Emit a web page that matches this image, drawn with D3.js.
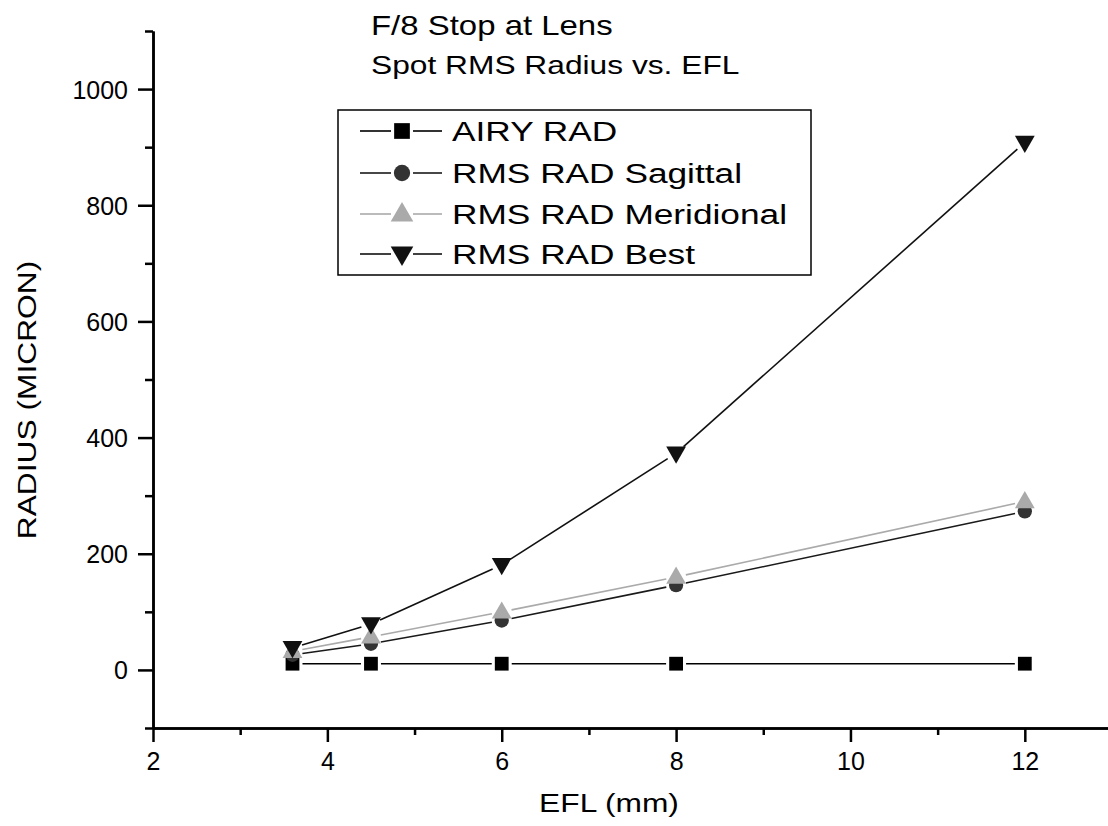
<!DOCTYPE html>
<html>
<head>
<meta charset="utf-8">
<script src="https://cdn.jsdelivr.net/npm/d3@7"></script>
<style>
body{margin:0;background:#fff;}
text{font-family:"Liberation Sans",Arial,sans-serif;fill:#000;}
</style>
</head>
<body>
<svg id="chart" width="1108" height="826"></svg>
<script>
// data
var efl=[3.6,4.5,6,8,12];
var airyRad=[10.7,10.7,10.7,10.7,10.7];
var rmsSagittal=[26,45,85,146,273];
var rmsMeridional=[32,57,100,160,290];
var rmsBest=[38,79,181,373,908];
var seriesNames=["AIRY RAD","RMS RAD Sagittal","RMS RAD Meridional","RMS RAD Best"];
var xTicks=[2,4,6,8,10,12];
var xMinor=[3,5,7,9,11,13];
var yTicks=[0,200,400,600,800,1000];
var yMinor=[-100,100,300,500,700,900,1100];

var stretch=1.22;

var series=[
  {name:seriesNames[0],vals:airyRad,line:"#000",fill:"#000",sym:d3.symbolSquare},
  {name:seriesNames[1],vals:rmsSagittal,line:"#1a1a1a",fill:"#333",sym:d3.symbolCircle},
  {name:seriesNames[2],vals:rmsMeridional,line:"#aaa",fill:"#aaa",sym:d3.symbolTriangle},
  {name:seriesNames[3],vals:rmsBest,line:"#111",fill:"#111",sym:"down"}
];

var svg=d3.select("#chart");

var x=d3.scaleLinear().domain([2,13]).range([153,1112]);
var y=d3.scaleLinear().domain([-100,1100]).range([728,31]);

function symPath(s,k){
  k=k||1;
  if(s=="down") return d3.symbol().type(d3.symbolTriangle).size(170*k)();
  if(s==d3.symbolSquare) return d3.symbol().type(s).size(190*k)();
  if(s==d3.symbolCircle) return d3.symbol().type(s).size(160*k)();
  return d3.symbol().type(s).size(170*k)();
}
function symTransform(s,px,py){
  if(s=="down") return "translate("+px+","+(py-1)+") rotate(180)";
  if(s==d3.symbolTriangle) return "translate("+px+","+(py+1)+")";
  return "translate("+px+","+py+")";
}

// axes
var yMaj=svg.append("g").attr("transform","translate(153,0)")
  .call(d3.axisLeft(y).tickValues(yTicks).tickSize(15).tickSizeOuter(0).tickPadding(10).tickFormat(d3.format("d")));
var yMin=svg.append("g").attr("transform","translate(153,0)")
  .call(d3.axisLeft(y).tickValues(yMinor).tickSize(8).tickSizeOuter(0).tickFormat(""));
var xMaj=svg.append("g").attr("transform","translate(0,728)")
  .call(d3.axisBottom(x).tickValues(xTicks).tickSize(14).tickSizeOuter(0).tickPadding(10));
var xMin=svg.append("g").attr("transform","translate(0,728)")
  .call(d3.axisBottom(x).tickValues(xMinor).tickSize(7).tickSizeOuter(0).tickFormat(""));

svg.selectAll(".domain").attr("stroke","#000").attr("stroke-width",2.5);
svg.selectAll(".tick line").attr("stroke","#000").attr("stroke-width",2.5);
svg.selectAll(".tick text").style("font-size","25px").style("font-family","'Liberation Sans',Arial,sans-serif").attr("fill","#000");
yMaj.selectAll(".tick text").attr("dy","0.36em");

// series lines with gaps round markers
var gap=10;
series.forEach(function(s){
  var pts=efl.map(function(e,i){return [x(e),y(s.vals[i])];});
  for(var i=0;i<pts.length-1;i++){
    var a=pts[i],b=pts[i+1];
    var dx=b[0]-a[0],dy=b[1]-a[1],len=Math.sqrt(dx*dx+dy*dy);
    if(len<=2*gap) continue;
    var ux=dx/len,uy=dy/len;
    svg.append("line")
      .attr("x1",a[0]+ux*gap).attr("y1",a[1]+uy*gap)
      .attr("x2",b[0]-ux*gap).attr("y2",b[1]-uy*gap)
      .attr("stroke",s.line).attr("stroke-width",1.6);
  }
});
series.forEach(function(s){
  svg.selectAll(null).data(s.vals).enter().append("path")
    .attr("d",symPath(s.sym))
    .attr("transform",function(d,i){return symTransform(s.sym,x(efl[i]),y(d));})
    .attr("fill",s.fill);
});

// axis titles
svg.append("text").attr("transform","translate(36,400) rotate(-90) scale("+stretch+",1)")
  .attr("text-anchor","middle").style("font-size","26px").text("RADIUS (MICRON)");
svg.append("text").attr("transform","translate(609,812) scale("+stretch+",1)")
  .attr("text-anchor","middle").style("font-size","26px").text("EFL (mm)");

// title
svg.append("text").attr("transform","translate(371,35) scale("+stretch+",1)")
  .style("font-size","27px").text("F/8 Stop at Lens");
svg.append("text").attr("transform","translate(371,74) scale("+stretch+",1)")
  .style("font-size","26px").text("Spot RMS Radius vs. EFL");

// legend
var lg=svg.append("g");
lg.append("rect").attr("x",338).attr("y",110).attr("width",473).attr("height",165)
  .attr("fill","#fff").attr("stroke","#000").attr("stroke-width",1.5);
var rowY=[131,173,214,254];
series.forEach(function(s,i){
  var ry=rowY[i];
  lg.append("line").attr("x1",360).attr("x2",391).attr("y1",ry).attr("y2",ry).attr("stroke",s.line).attr("stroke-width",1.6);
  lg.append("line").attr("x1",413).attr("x2",442).attr("y1",ry).attr("y2",ry).attr("stroke",s.line).attr("stroke-width",1.6);
  lg.append("path").attr("d",symPath(s.sym,1.3)).attr("transform",symTransform(s.sym,402,ry)).attr("fill",s.fill);
  lg.append("text").attr("transform","translate(452,"+(ry+10)+") scale(1.26,1)")
    .style("font-size","28px").text(s.name);
});
</script>
</body>
</html>
